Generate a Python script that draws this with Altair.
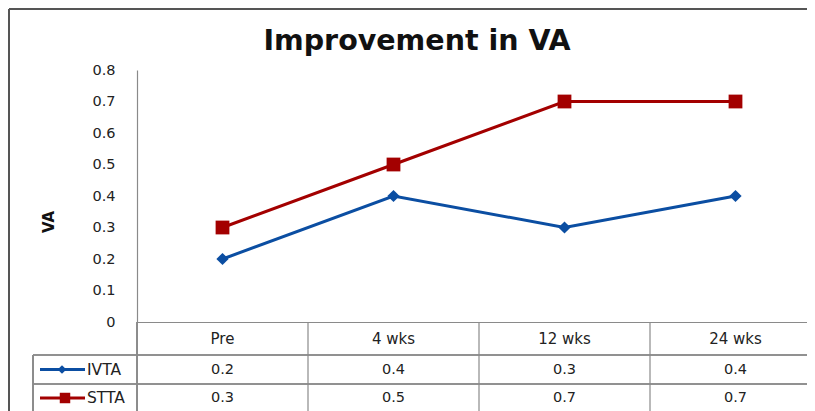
import altair as alt
import pandas as pd

# ---- data ----
categories = ["Pre", "4 wks", "12 wks", "24 wks"]
series_names = ["IVTA", "STTA"]
ivta_values = [0.2, 0.4, 0.3, 0.4]
stta_values = [0.3, 0.5, 0.7, 0.7]
y_ticks = [0, 0.1, 0.2, 0.3, 0.4, 0.5, 0.6, 0.7, 0.8]
title_text = "Improvement in VA"
y_title = "VA"

# ---- style ----
colors = ["#0b4ea2", "#a30000"]
shapes = ["diamond", "square"]
marker_sizes = [150, 190]
icon_sizes = [75, 110]
icon_marker_x = [-75, -72]
row_y = [299.5, 328]            # table rows (relative to plot top)
row_lines = [285, 314]
grid_col = "#8a8a8a"
FONT = "DejaVu Sans"
PLOT_W = 684
PLOT_H = 252
SVG_W = 799
SVG_H = 403
PAD_L, PAD_T = 129, 62
RIGHT_EDGE = SVG_W - PAD_L      # right edge of the drawing (relative to plot left)
BOTTOM = SVG_H - PAD_T          # lowest drawn y (relative to plot top)

rows = []
for name, vals in zip(series_names, [ivta_values, stta_values]):
    for c, v in zip(categories, vals):
        rows.append({"cat": c, "series": name, "value": v})
df = pd.DataFrame(rows)

x_enc = alt.X(
    "cat:N",
    sort=categories,
    scale=alt.Scale(type="band", domain=categories, paddingInner=0, paddingOuter=0),
    axis=alt.Axis(title=None, ticks=False, tickSize=0, labelAngle=0,
                  labelBaseline="middle", labelPadding=16, labelFontSize=15,
                  labelFont=FONT, labelColor="#222222",
                  domainColor=grid_col, domainWidth=1.2),
)
y_enc = alt.Y(
    "value:Q",
    scale=alt.Scale(domain=[0, 0.8], nice=False, zero=True),
    axis=alt.Axis(title=None, values=y_ticks, grid=False, ticks=False, tickSize=0,
                  labelPadding=22, labelFontSize=14.5, labelFont=FONT,
                  labelColor="#222222", domainColor=grid_col, domainWidth=1.2,
                  labelExpr="datum.value == 0 ? '0' : format(datum.value, '.1f')"),
)

layers = []

# data lines + markers
for i, name in enumerate(series_names):
    base = alt.Chart(df).transform_filter(alt.datum.series == name)
    layers.append(base.mark_line(color=colors[i], strokeWidth=3).encode(x=x_enc, y=y_enc))
    layers.append(base.mark_point(shape=shapes[i], filled=True, opacity=1,
                                  color=colors[i], size=marker_sizes[i]).encode(x=x_enc, y=y_enc))

one = alt.Chart(df).transform_filter(alt.datum.series == series_names[0])

# table vertical lines at band edges
layers.append(one.transform_filter(alt.datum.cat != categories[0]).mark_rule(
    color=grid_col, strokeWidth=1.2).encode(
    x=alt.X("cat:N", sort=categories, bandPosition=0),
    y=alt.value(PLOT_H), y2=alt.value(BOTTOM)))
# y-axis line continuing down through the table
layers.append(one.mark_rule(color=grid_col, strokeWidth=1.2).encode(
    x=alt.value(0), y=alt.value(PLOT_H), y2=alt.value(BOTTOM)))
# legend column left border
layers.append(one.mark_rule(color=grid_col, strokeWidth=1.2).encode(
    x=alt.value(-104), y=alt.value(row_lines[0]), y2=alt.value(BOTTOM)))
# table horizontal lines
for yy in row_lines:
    layers.append(one.mark_rule(color=grid_col, strokeWidth=1.2).encode(
        x=alt.value(-104), x2=alt.value(RIGHT_EDGE), y=alt.value(yy)))

# table rows
for i, name in enumerate(series_names):
    base = alt.Chart(df).transform_filter(alt.datum.series == name)
    layers.append(base.mark_text(font=FONT, fontSize=14.5, color="#222222",
                                 baseline="middle").encode(
        x=alt.X("cat:N", sort=categories),
        y=alt.value(row_y[i]),
        text=alt.Text("value:Q", format=".1f")))
    first = base.transform_filter(alt.datum.cat == categories[0])
    layers.append(first.mark_rule(color=colors[i], strokeWidth=3).encode(
        x=alt.value(-97), x2=alt.value(-52), y=alt.value(row_y[i])))
    layers.append(first.mark_point(shape=shapes[i], filled=True, opacity=1,
                                   color=colors[i], size=icon_sizes[i]).encode(
        x=alt.value(icon_marker_x[i]), y=alt.value(row_y[i])))
    layers.append(first.mark_text(font=FONT, fontSize=15.5, color="#222222",
                                  align="left", baseline="middle").encode(
        x=alt.value(-50), y=alt.value(row_y[i]), text="series:N"))

# title
layers.append(alt.Chart(pd.DataFrame({"t": [title_text]})).mark_text(
    font=FONT, fontSize=28.5, fontWeight="bold", color="#111111",
    align="center", baseline="alphabetic").encode(
    x=alt.value(280), y=alt.value(-20), text="t:N"))
# y title
layers.append(alt.Chart(pd.DataFrame({"t": [y_title]})).mark_text(
    font=FONT, fontSize=15, fontWeight="bold", color="#111111",
    angle=270, align="center", baseline="middle").encode(
    x=alt.value(-88), y=alt.value(152), text="t:N"))

# outer frame
frame = pd.DataFrame({"t": [0]})
layers.append(alt.Chart(frame).mark_rule(color="#555555", strokeWidth=2).encode(
    x=alt.value(-128), y=alt.value(-61), y2=alt.value(BOTTOM)))
layers.append(alt.Chart(frame).mark_rule(color="#555555", strokeWidth=2).encode(
    x=alt.value(-128), x2=alt.value(RIGHT_EDGE), y=alt.value(-61)))

chart = alt.layer(*layers).properties(
    width=PLOT_W, height=PLOT_H,
    autosize=alt.AutoSizeParams(type="none"),
    padding={"left": PAD_L, "top": PAD_T, "right": SVG_W - PAD_L - PLOT_W,
             "bottom": SVG_H - PAD_T - PLOT_H},
    background="transparent",
).configure_view(stroke="transparent", strokeWidth=0)

chart.save("out.html", embed_options={"renderer": "svg", "actions": False})
